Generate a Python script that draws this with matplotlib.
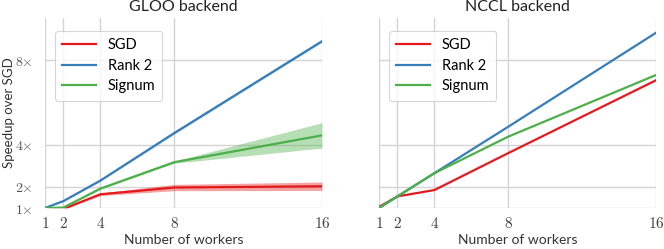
import matplotlib
matplotlib.use("Agg")
import matplotlib.pyplot as plt
import numpy as np

workers = [1, 2, 4, 8, 16]

gloo_sgd = [1.0, 0.96, 1.65, 1.97, 2.03]
gloo_sgd_err = [0.0, 0.03, 0.06, 0.15, 0.2]
gloo_rank2 = [1.0, 1.33, 2.3, 4.55, 8.9]
gloo_rank2_err = [0.0, 0.02, 0.03, 0.05, 0.05]
gloo_signum = [1.0, 1.02, 1.92, 3.17, 4.44]
gloo_signum_err = [0.0, 0.02, 0.04, 0.05, 0.6]

nccl_sgd = [1.05, 1.55, 1.85, 3.6, 7.05]
nccl_rank2 = [1.0, 1.55, 2.65, 4.85, 9.3]
nccl_signum = [1.0, 1.55, 2.65, 4.38, 7.3]

series_names = ["SGD", "Rank 2", "Signum"]
colors = ["#e41a1c", "#377eb8", "#4daf4a"]
yticks = [1, 2, 4, 8]
ytick_labels = [r"$1{\times}$", r"$2{\times}$", r"$4{\times}$", r"$8{\times}$"]

plt.rcParams["mathtext.fontset"] = "cm"
plt.rcParams["font.family"] = ["Lato", "DejaVu Sans"]

fig = plt.figure(figsize=(6.64, 2.49), dpi=100)
ax1 = fig.add_axes([45/664, 1-208/249, 277/664, 190/249])
ax2 = fig.add_axes([379/664, 1-208/249, 277/664, 190/249], sharey=ax1)

def style(ax):
    ax.set_xlim(1, 16)
    ax.set_ylim(1, 10)
    ax.set_xticks(workers)
    ax.set_xticklabels([r"$%d$" % w for w in workers], fontsize=11, color="#444444")
    ax.grid(True, color="#d4d4d4", linewidth=1.0)
    ax.set_axisbelow(True)
    for s in ax.spines.values():
        s.set_visible(False)
    ax.tick_params(length=0, pad=6)
    ax.set_xlabel("Number of workers", fontsize=10, color="#333333", labelpad=2)

x = np.array(workers)
gloo = [(gloo_sgd, gloo_sgd_err), (gloo_rank2, gloo_rank2_err), (gloo_signum, gloo_signum_err)]
for (vals, err), name, c in zip(gloo, series_names, colors):
    v = np.array(vals); e = np.array(err)
    ax1.fill_between(x, v - e, v + e, color=c, alpha=0.4, linewidth=0)
    ax1.plot(x, v, color=c, linewidth=1.6, label=name)

for vals, name, c in zip([nccl_sgd, nccl_rank2, nccl_signum], series_names, colors):
    ax2.plot(x, vals, color=c, linewidth=1.6, label=name)

for ax, title in [(ax1, "GLOO backend"), (ax2, "NCCL backend")]:
    style(ax)
    ax.set_title(title, fontsize=11.5, color="#222222", pad=5)
    leg = ax.legend(loc="upper left", fontsize=10.5, handlelength=2.3,
                    handletextpad=0.8, frameon=True, fancybox=True,
                    edgecolor="#cccccc", borderpad=0.5, labelspacing=0.45,
                    bbox_to_anchor=(0.01, 0.97))
    leg.get_frame().set_linewidth(0.8)

ax1.set_yticks(yticks)
ax1.set_yticklabels(ytick_labels, fontsize=10, color="#555555")
ax1.tick_params(axis="y", pad=9)
ax1.set_ylabel("Speedup over SGD", fontsize=9.5, color="#333333")
ax1.yaxis.set_label_coords(-0.11, 0.5)
plt.setp(ax2.get_yticklabels(), visible=False)

fig.savefig("out.png", dpi=100)
